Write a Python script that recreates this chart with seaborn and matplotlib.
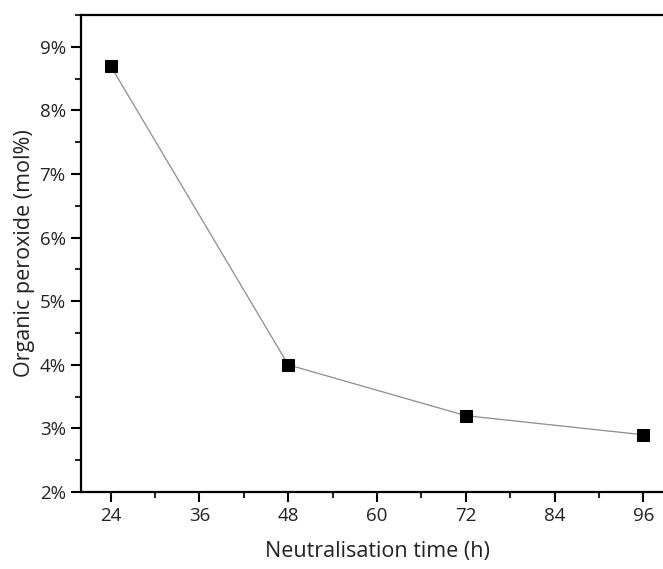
import pandas as pd
import seaborn as sns
import matplotlib.pyplot as plt
from matplotlib.ticker import MultipleLocator, FuncFormatter

# data
hours = [24, 48, 72, 96]
peroxide = [8.7, 4.0, 3.2, 2.9]

df = pd.DataFrame({'hours': hours, 'peroxide': peroxide})

sns.set_style('ticks')
plt.rcParams['font.family'] = ['Open Sans', 'DejaVu Sans']

fig = plt.figure(figsize=(6.63, 5.69), dpi=100)
# axes run past the right edge, like the cropped original
ax = fig.add_axes([0.1222, 0.1353, 0.893, 0.8383])

sns.lineplot(data=df, x='hours', y='peroxide', ax=ax, color='#8c8c8c', linewidth=0.9,
             marker='s', markersize=8.5, markerfacecolor='black', markeredgecolor='black')

ax.set_xlim(20, 100)
ax.set_ylim(2, 9.5)
ax.set_xticks([24, 36, 48, 60, 72, 84, 96])
ax.xaxis.set_minor_locator(MultipleLocator(6))
ax.yaxis.set_major_locator(MultipleLocator(1))
ax.yaxis.set_minor_locator(MultipleLocator(0.5))
ax.yaxis.set_major_formatter(FuncFormatter(lambda v, p: f'{v:.0f}%'))

for s in ['left', 'bottom', 'top']:
    ax.spines[s].set_visible(True)
    ax.spines[s].set_linewidth(1.6)
    ax.spines[s].set_color('black')
ax.spines['right'].set_visible(False)
ax.tick_params(right=False)

ax.tick_params(which='major', direction='out', length=7, width=1.5, labelsize=13.5,
               colors='black', labelcolor='#222222', pad=4)
ax.tick_params(which='minor', direction='out', length=4, width=1.5)

ax.set_xlabel('Neutralisation time (h)', fontsize=15.5, labelpad=11, color='#222222')
ax.set_ylabel('Organic peroxide (mol%)', fontsize=15.5, labelpad=3, color='#222222')

fig.savefig('out.png', dpi=100)
